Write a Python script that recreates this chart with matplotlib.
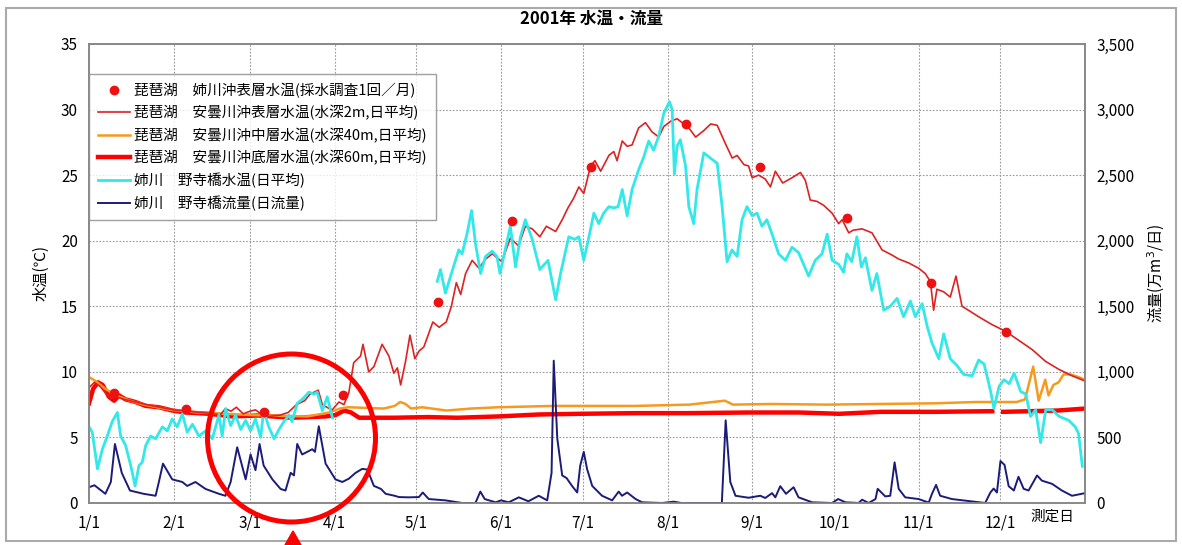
import numpy as np
import matplotlib
matplotlib.use('Agg')
import matplotlib.pyplot as plt
from matplotlib.patches import Ellipse, Polygon, Rectangle
from matplotlib.lines import Line2D

plt.rcParams['font.family'] = ['Noto Sans CJK JP', 'DejaVu Sans']

# day of year (0 = 1/1)
month_days = [0, 31, 59, 90, 120, 151, 181, 212, 243, 273, 304, 334]
month_labels = ['%d/1' % m for m in range(1, 13)]

# 琵琶湖 姉川沖表層水温 (monthly sampling)
dot_day = [9, 35.5, 64, 93, 128, 155, 184, 218.7, 246, 277.6, 308.4, 336]
dot_temp = [8.4, 7.2, 6.9, 8.2, 15.3, 21.5, 25.6, 28.9, 25.6, 21.7, 16.8, 13.0]

# 安曇川沖表層水温 (2m)
surf_day = [0, 2, 4, 6, 8, 10, 13, 17, 21, 26, 31, 36, 41, 46, 48, 50, 52, 54, 56.5,
            59, 61, 63, 66, 70, 73, 76, 79, 81, 84, 85.5, 88, 89.1, 91.6, 93.4, 95.2,
            97, 99.5, 100.4, 102.5, 104.4, 107.4, 109.9, 111.7, 113, 114.2, 116, 117.6,
            119.4, 121, 122.7, 124.6, 126, 128.3, 130.9, 132.8, 134.6, 136.2, 138, 140.4,
            142.9, 145.3, 147.8, 151.3, 154.4, 157.4, 159.9, 162.4, 165.2, 167.6, 171,
            173.4, 175.5, 177.5, 179.5, 181.3, 183.8, 185.4, 187.5, 190.5, 192.3, 193.5,
            195.4, 197.2, 199, 201.4, 203.9, 206.3, 208.8, 210.6, 213.1, 215.5, 219.8,
            222.3, 225.3, 227.8, 230.2, 233.2, 235.7, 237.5, 240, 241.7, 243, 245.4,
            247.8, 249.7, 251.5, 254.2, 257.6, 260.7, 262.5, 264.3, 266.7, 269.2, 272.3,
            274.7, 276, 278.4, 280, 283.3, 286.9, 290.6, 294.3, 296.7, 300.4, 304, 306.4,
            308.3, 309.5, 310.7, 313.2, 315.6, 317.7, 319.9, 323, 326, 330.9, 335.8,
            340.7, 345.6, 350.5, 355.3, 360.2, 365]
surf_temp = [8.8, 9.2, 8.9, 8.4, 8.0, 8.1, 7.9, 7.7, 7.5, 7.3, 7.1, 7.0, 6.9, 6.8, 6.7,
             7.2, 7.0, 7.3, 6.8, 7.0, 7.1, 6.8, 6.6, 6.7, 6.9, 7.5, 7.8, 8.3, 8.6, 7.5,
             7.2, 7.1, 7.7, 7.5, 8.4, 10.7, 11.2, 12.1, 10.0, 10.4, 12.1, 11.2, 9.9, 10.3,
             9.0, 10.8, 12.8, 11.0, 11.6, 11.9, 13.0, 13.8, 13.4, 13.8, 15.0, 16.8, 15.9,
             17.5, 18.5, 17.9, 18.6, 19.0, 18.4, 20.2, 19.6, 21.1, 20.9, 20.3, 21.1, 20.7,
             21.6, 22.5, 23.2, 24.1, 23.6, 25.7, 26.1, 25.3, 26.5, 26.8, 26.1, 27.6, 27.2,
             27.3, 28.6, 29.0, 28.3, 27.9, 28.7, 29.1, 29.3, 28.6, 27.9, 28.4, 28.9, 28.8,
             27.4, 26.3, 26.5, 25.8, 25.7, 24.8, 25.0, 24.7, 24.1, 25.3, 24.4, 24.8, 25.2,
             24.6, 23.1, 23.0, 22.7, 22.1, 21.3, 21.6, 20.6, 20.8, 20.9, 20.6, 19.3, 18.9,
             18.6, 18.3, 17.9, 17.5, 16.9, 14.7, 16.3, 16.1, 15.7, 17.3, 15.0, 14.6, 14.2,
             13.6, 13.1, 12.4, 11.7, 10.8, 10.2, 9.7, 9.3]

# 安曇川沖中層水温 (40m)
mid_day = [0, 2.4, 6, 10, 15, 20, 30, 40, 60, 80, 88, 92, 95, 108, 112, 114, 116, 118,
           122, 131, 140, 150, 170, 200, 220, 233, 236, 250, 270, 290, 310, 325, 340,
           343, 346, 348, 350.4, 351.6, 353.4, 355.3, 357.1, 359.6, 362.6, 365]
mid_temp = [9.6, 9.3, 8.7, 8.2, 7.8, 7.5, 7.1, 6.9, 6.7, 6.6, 6.9, 7.2, 7.3, 7.2, 7.4,
            7.7, 7.55, 7.2, 7.3, 7.05, 7.2, 7.3, 7.4, 7.4, 7.5, 7.8, 7.5, 7.55, 7.5,
            7.55, 7.6, 7.7, 7.7, 7.9, 10.4, 7.8, 9.4, 8.2, 9.0, 9.2, 9.8, 9.8, 9.6, 9.4]

# 安曇川沖底層水温 (60m)
deep_day = [0, 1.5, 3.3, 5, 7.3, 9.2, 11, 13.4, 17, 20.8, 25.6, 30.5, 35.5, 44, 52.5,
            62, 74.4, 86.7, 90.3, 93.5, 96, 99, 112, 124, 135, 150, 165, 180, 200, 220,
            241.7, 260, 275, 290, 310, 331, 333, 335, 345, 355, 365]
deep_temp = [7.6, 8.7, 9.2, 9.0, 8.1, 7.8, 8.2, 7.9, 7.7, 7.4, 7.3, 7.05, 6.9, 6.8, 6.6,
             6.67, 6.5, 6.6, 6.7, 7.05, 6.9, 6.5, 6.5, 6.55, 6.5, 6.6, 6.75, 6.8, 6.85,
             6.85, 6.9, 6.9, 6.8, 6.95, 6.95, 7.0, np.nan, 6.95, 7.0, 7.05, 7.2]

# 姉川 野寺橋水温
river_day = [0, 1.2, 3.1, 4.9, 6.7, 8.5, 10.4, 11.6, 13.4, 15.3, 16.9, 18.3, 19.5, 20.8,
             22.6, 24.4, 26.9, 28.7, 30.5, 32.3, 34.2, 36, 37.9, 40.3, 42.7, 45.2, 47.6,
             48.8, 50.1, 51.9, 53.7, 55.6, 57.4, 59.2, 61, 62.9, 64, 65.9, 67.8, 69.6,
             71.4, 73.3, 74.4, 76.3, 78.1, 80.6, 82.4, 83.6, 85.5, 87.3, 89.2, 100,
             127.6, 128.8, 130.6, 132.5, 134.3, 135.5, 136.7, 138.6, 140.2, 141.6, 143.5,
             145.3, 147.7, 149.5, 150.6, 152.5, 154.4, 156.3, 158.1, 159.9, 162.4, 165.2,
             168.2, 171, 172.8, 175.8, 178, 179.5, 181.3, 183.2, 185, 186.8, 188.6, 190.5,
             192.3, 193.9, 195.4, 197.2, 199, 201.4, 203.3, 205.1, 206.9, 208.8, 210.6,
             212.7, 213.7, 214.5, 215.5, 216.7, 218.6, 219.8, 221.6, 222.8, 225.3, 227.7,
             230.2, 232, 233.8, 235.6, 237.5, 239.3, 241.1, 243, 244.8, 246.6, 248.4,
             250.3, 252.7, 255.2, 257.6, 260, 263.7, 266.1, 268.6, 270.5, 272.3, 274.7,
             276.5, 277.7, 279.5, 281.4, 283, 284.5, 286.9, 288.7, 291.2, 293.6, 296.1,
             298.5, 301, 302.8, 305.3, 307.1, 308.9, 311.4, 313.2, 315.6, 318, 320.5,
             323.6, 326, 328, 330.4, 331.6, 333.5, 335.3, 337.2, 339, 341.4, 343.3, 345,
             346.9, 348.7, 350.6, 353, 355.5, 359, 361.4, 362.6, 364]
river_temp = [5.8, 5.4, 2.6, 4.1, 5.1, 6.2, 6.9, 5.1, 4.4, 2.85, 1.3, 2.85, 3.1, 4.4,
              5.1, 4.9, 5.8, 5.5, 6.4, 5.8, 6.8, 5.4, 6.0, 5.1, 5.5, 4.9, 6.7, 5.1, 7.2,
              5.9, 6.7, 5.6, 6.3, 5.5, 6.4, 5.0, 7.05, 5.8, 4.9, 5.6, 6.2, 6.7, 6.2, 7.6,
              7.9, 8.45, 8.3, 8.45, 7.05, 8.1, 6.5, np.nan,
              16.9, 17.8, 16.0, 17.3, 18.5, 19.3, 19.0, 20.6, 22.3, 19.8, 17.5, 18.8,
              19.2, 18.8, 17.5, 19.3, 21.1, 18.0, 20.3, 21.6, 20.1, 17.8, 18.5, 15.5,
              17.5, 20.3, 20.1, 20.3, 18.5, 20.3, 22.1, 21.3, 22.1, 22.6, 22.5, 22.6,
              23.9, 21.9, 23.9, 25.4, 26.4, 27.6, 26.9, 28.0, 29.7, 30.6, 30.0, 25.1,
              27.2, 27.7, 25.7, 22.6, 21.3, 23.9, 26.7, 26.3, 25.9, 22.6, 18.4, 19.3,
              18.8, 21.6, 22.6, 21.9, 22.1, 21.1, 21.6, 20.5, 19.0, 18.5, 19.5, 19.1,
              17.3, 18.5, 19.0, 20.5, 18.5, 18.2, 17.6, 19.0, 18.4, 20.3, 18.0, 18.7,
              16.2, 17.5, 14.7, 15.0, 15.6, 14.2, 15.4, 14.2, 15.2, 13.5, 12.2, 11.0,
              12.9, 11.0, 10.5, 9.8, 9.7, 10.9, 10.6, 8.5, 7.2, 8.9, 9.4, 9.1, 9.9, 8.5,
              8.3, 6.6, 7.1, 4.6, 7.1, 7.1, 6.6, 6.3, 5.8, 5.3, 2.8]

# 姉川 野寺橋流量 (万m3/日)
flow_day = [0, 2, 6, 8, 9.5, 12, 15, 20, 24.4, 25.6, 27.1, 30.5, 34.2, 36, 39, 42.7,
            47.6, 50, 51.9, 54.3, 57.4, 59.2, 61, 62.5, 64, 67.2, 70.2, 72, 73.9, 75.1,
            76.3, 78.1, 80, 81.8, 82.8, 84.2, 86.7, 90.3, 92.8, 95.2, 97.7, 100.1, 102,
            104.4, 107, 108.7, 112, 113.6, 117, 120.9, 122.3, 124.5, 130.6, 136.7, 141.6,
            143.4, 145, 149, 151, 153.8, 157.5, 161, 164.8, 167.9, 169.5, 170.3, 171.6,
            173.4, 175, 177, 178.9, 180, 181.3, 182.5, 184.4, 188, 191.7, 194.1, 195.3,
            197.2, 200.3, 202.7, 210, 214.3, 217, 231.9, 233.3, 235, 236.9, 241.7, 246,
            247.8, 250.3, 251.5, 253.3, 255.4, 258.2, 260, 265, 272.3, 274.5, 277.2, 282,
            283.3, 285.7, 288.2, 289, 291.8, 293.6, 295.2, 296.7, 299.1, 304, 307.7,
            308.9, 310.4, 311.9, 316.2, 321, 328.4, 330.3, 331.5, 332.7, 334, 335.5, 337,
            338.9, 340.6, 342.5, 344.3, 347.4, 349.2, 352.9, 356.5, 360.2, 363.8, 365]
flow_val = [120, 135, 70, 160, 450, 230, 95, 70, 55, 160, 300, 180, 160, 130, 160, 107,
            70, 55, 160, 425, 180, 370, 250, 450, 285, 180, 107, 95, 230, 210, 450, 370,
            390, 410, 390, 585, 300, 180, 160, 185, 230, 260, 255, 130, 107, 70, 55, 45,
            43, 45, 80, 30, 20, 0, 0, 87, 30, 5, 20, 5, 43, 13, 55, 20, 230, 1085, 490,
            210, 190, 130, 80, 285, 390, 260, 130, 55, 20, 87, 55, 80, 30, 5, 0, 10, 0,
            0, 630, 160, 55, 40, 55, 38, 75, 43, 128, 70, 120, 43, 5, 0, 30, 5, 0, 25,
            0, 30, 108, 50, 55, 310, 108, 43, 30, 3, 70, 138, 55, 30, 18, 0, 80, 110,
            80, 320, 290, 128, 95, 200, 108, 95, 210, 170, 146, 95, 55, 70, 75]

fig = plt.figure(figsize=(11.82, 5.45), dpi=100)
ax = fig.add_axes([0.0753, 0.0771, 0.8427, 0.8422])
ax2 = ax.twinx()

ax.plot(deep_day, deep_temp, color='#ff0000', lw=3.2, zorder=3)
ax.plot(mid_day, mid_temp, color='#f59a1e', lw=1.8, zorder=4)
ax.plot(surf_day, surf_temp, color='#dd2222', lw=1.2, zorder=5)
ax.plot(river_day, river_temp, color='#33e8e8', lw=2.0, zorder=6)
ax.plot(dot_day, dot_temp, 'o', color='#ee1111', ms=6, zorder=7)
ax2.plot(flow_day, flow_val, color='#1c1c78', lw=1.4)

ax.set_xlim(0, 365)
ax.set_ylim(0, 35)
ax2.set_ylim(0, 3500)
ax.set_xticks(month_days)
ax.set_xticklabels(month_labels)
ax.set_yticks(range(0, 36, 5))
ax2.set_yticks(range(0, 3501, 500))
ax2.set_yticklabels(['{:,}'.format(v) for v in range(0, 3501, 500)])
ax.grid(True, color='#999999', ls=(0, (1.5, 1.5)), lw=0.8)
ax.tick_params(length=0, labelsize=11, pad=8)
ax2.tick_params(length=0, labelsize=11, pad=8)
for a in (ax, ax2):
    for s in a.spines.values():
        s.set_color('#888888')
        s.set_linewidth(1.2)

ax.set_ylabel('水温(℃)', fontsize=11, labelpad=8)
ax2.set_ylabel('流量(万m$^3$/日)', fontsize=11, labelpad=8)
fig.text(0.5, 0.965, '2001年 水温・流量', ha='center', va='center', fontsize=12,
         fontweight='bold')
fig.text(0.872, 0.052, '測定日', ha='left', va='center', fontsize=10.5)

handles = [
    Line2D([], [], ls='none', marker='o', color='#ee1111', ms=6),
    Line2D([], [], color='#dd2222', lw=1.2),
    Line2D([], [], color='#f59a1e', lw=1.8),
    Line2D([], [], color='#ff0000', lw=3.2),
    Line2D([], [], color='#33e8e8', lw=2.0),
    Line2D([], [], color='#1c1c78', lw=1.4),
]
labels = [
    '琵琶湖　姉川沖表層水温(採水調査1回／月)',
    '琵琶湖　安曇川沖表層水温(水深2m,日平均)',
    '琵琶湖　安曇川沖中層水温(水深40m,日平均)',
    '琵琶湖　安曇川沖底層水温(水深60m,日平均)',
    '姉川　野寺橋水温(日平均)',
    '姉川　野寺橋流量(日流量)',
]
leg = ax2.legend(handles, labels, loc='upper left', bbox_to_anchor=(0.0, 0.935),
                 borderaxespad=0, fontsize=10.5, frameon=True, fancybox=False,
                 handlelength=2.2, handletextpad=0.3, labelspacing=0.5,
                 borderpad=0.6)
leg.get_frame().set_edgecolor('#888888')
leg.get_frame().set_linewidth(1.0)

# outer frame
fig.patches.append(Rectangle((6 / 1182, 4 / 545), 1170 / 1182, 533 / 545,
                             transform=fig.transFigure, fill=False,
                             edgecolor='#aaaaaa', lw=1.5))
# red highlight circle and arrow
fig.patches.append(Ellipse((291.5 / 1182, 1 - 438 / 545), 168 / 1182, 168 / 545,
                           transform=fig.transFigure, fill=False,
                           edgecolor='#ff0000', lw=3.6, zorder=10))
fig.patches.append(Polygon([(293 / 1182, 1 - 531 / 545), (285 / 1182, 0),
                            (301 / 1182, 0)], closed=True,
                           transform=fig.transFigure, color='#ff0000', zorder=10))

fig.savefig('out.png', dpi=100)
